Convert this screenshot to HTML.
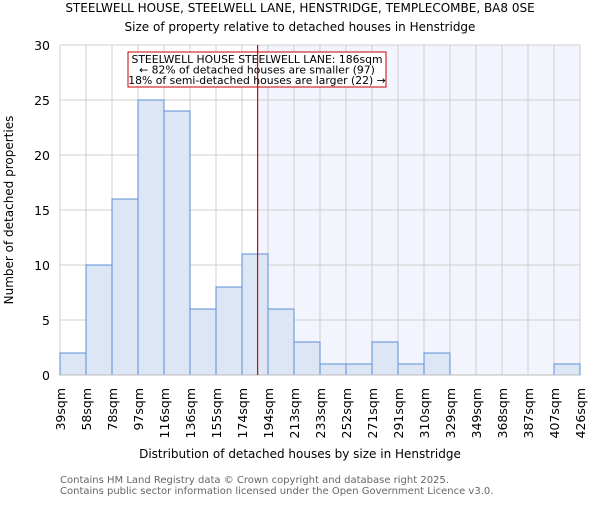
<!DOCTYPE html>
<html><head><meta charset="utf-8"><style>
body{margin:0;background:#fff;}
svg{font-family:"DejaVu Sans","Liberation Sans",sans-serif;}
</style></head><body>
<svg id="chart" width="600" height="500" viewBox="0 0 600 500" xmlns="http://www.w3.org/2000/svg">
<text x="300" y="12" text-anchor="middle" font-size="12" fill="#000">STEELWELL HOUSE, STEELWELL LANE, HENSTRIDGE, TEMPLECOMBE, BA8 0SE</text>
<text x="300" y="31" text-anchor="middle" font-size="12" fill="#000">Size of property relative to detached houses in Henstridge</text>
<g id="grid"></g>
<g id="bars"></g>
<g id="axes"></g>
<text x="300" y="458" text-anchor="middle" font-size="12" fill="#000">Distribution of detached houses by size in Henstridge</text>
<text transform="translate(13,210) rotate(-90)" text-anchor="middle" font-size="12" fill="#000">Number of detached properties</text>
<text x="60" y="483" font-size="10" fill="#666">Contains HM Land Registry data © Crown copyright and database right 2025.</text>
<text x="60" y="494" font-size="10" fill="#666">Contains public sector information licensed under the Open Government Licence v3.0.</text>
</svg>
<script>
const binLabels=["39sqm","58sqm","78sqm","97sqm","116sqm","136sqm","155sqm","174sqm","194sqm","213sqm","233sqm","252sqm","271sqm","291sqm","310sqm","329sqm","349sqm","368sqm","387sqm","407sqm","426sqm"];
const binEdges=[39,58,78,97,116,136,155,174,194,213,233,252,271,291,310,329,349,368,387,407,426];
const counts=[2,10,16,25,24,6,8,11,6,3,1,1,3,1,2,0,0,0,0,1];
const yTicks=[0,5,10,15,20,25,30];
const subjectSize=186;
const NS="http://www.w3.org/2000/svg";
const L=60,R=580,T=45,B=375,yMax=30;
const n=counts.length;
function xi(i){return L+(R-L)*i/n;}
function xv(v){let i=0;while(i<binEdges.length-2&&v>binEdges[i+1])i++;return xi(i)+(v-binEdges[i])/(binEdges[i+1]-binEdges[i])*(R-L)/n;}
function y(v){return B-(B-T)*v/yMax;}
function mk(tag,attrs,parent){const e=document.createElementNS(NS,tag);for(const k in attrs)e.setAttribute(k,attrs[k]);parent.appendChild(e);return e;}
const grid=document.getElementById('grid'),bars=document.getElementById('bars'),axes=document.getElementById('axes');
const sx=xv(subjectSize);
const sh=mk('rect',{x:sx,y:T,width:R-sx,height:B-T,fill:'#f2f5fd'},grid);


for(let i=0;i<=n;i++){const g=mk('line',{x1:xi(i),x2:xi(i),y1:T,y2:B,stroke:'#cfcfcf','stroke-width':1},grid);

}
yTicks.forEach(t=>{const g=mk('line',{x1:L,x2:R,y1:y(t),y2:y(t),stroke:'#cfcfcf','stroke-width':1},grid);


const tx=mk('text',{x:L-10,y:y(t)+5,'text-anchor':'end','font-size':12.5,fill:'#000'},axes);tx.textContent=t;

});
counts.forEach((c,i)=>{if(c<=0)return;const r=mk('rect',{x:xi(i),y:y(c),width:(R-L)/n,height:B-y(c),fill:'#dce6f4',stroke:'#5b8fd6','stroke-width':1},bars);

});
binLabels.forEach((lb,i)=>{const tx=mk('text',{transform:`translate(${xi(i)+5},388) rotate(-90)`,'text-anchor':'end','font-size':12.5,fill:'#000'},axes);tx.textContent=lb;

});
const ax=mk('line',{x1:L,x2:R,y1:B,y2:B,stroke:'#bbbbbb','stroke-width':1},axes);


const box=mk('rect',{x:128,y:52,width:258,height:35,fill:'#fff',stroke:'#cc0000','stroke-width':1},axes);


["STEELWELL HOUSE STEELWELL LANE: 186sqm","← 82% of detached houses are smaller (97)","18% of semi-detached houses are larger (22) →"].forEach((s,k)=>{
const tx=mk('text',{x:257,y:63+k*10.5,'text-anchor':'middle','font-size':10.8,fill:'#000'},axes);tx.textContent=s;

});
const rl=mk('line',{x1:sx,x2:sx,y1:T,y2:B,stroke:'#dd0000','stroke-width':1.2},axes);


</script>
</body></html>
